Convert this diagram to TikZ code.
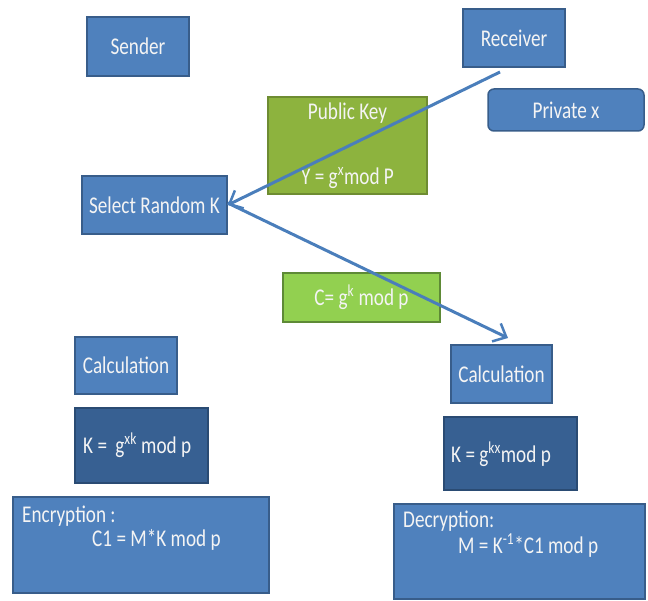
\documentclass[tikz,border=0pt]{standalone}
\usepackage{fontspec}
\setmainfont{Carlito}[FakeStretch=0.8]
\usetikzlibrary{arrows.meta}
\definecolor{boxblue}{HTML}{4F81BD}
\definecolor{boxedge}{HTML}{385D8A}
\definecolor{darkblue}{HTML}{376092}
\definecolor{darkedge}{HTML}{2A4B73}
\definecolor{olive}{HTML}{8DB33E}
\definecolor{oliveedge}{HTML}{6E8C32}
\definecolor{lgreen}{HTML}{92D050}
\definecolor{lgreenedge}{HTML}{5E8A36}
\definecolor{txt}{HTML}{F4F4F4}
\definecolor{arrowc}{HTML}{4A7EBB}
\begin{document}
\begin{tikzpicture}[x=1pt,y=-1pt,
  box/.style={draw=boxedge,fill=boxblue,line width=1.5pt,text=txt,inner sep=0pt,
    font=\fontsize{24}{27}\selectfont},
  dbox/.style={box,draw=darkedge,fill=darkblue},
  lbl/.style={text=txt,inner sep=0pt,font=\fontsize{24}{27}\selectfont},
  conn/.style={draw=arrowc,line width=3pt,-{Straight Barb[length=11pt,width=20pt,line width=2.5pt]}}]
\useasboundingbox (0,0) rectangle (648,601);
\node[box,minimum width=102pt,minimum height=59pt] (sender) at (138,46.5) {Sender};
\node[box,minimum width=102pt,minimum height=58pt] (recv) at (514,38) {Receiver};
\node[box,rounded corners=6pt,minimum width=156pt,minimum height=42pt] (priv) at (566,110) {Private x};
\node[box,draw=oliveedge,fill=olive,minimum width=159pt,minimum height=97pt] (pub) at (347.5,145.5) {};
\node[lbl] (pub1) at (347.5,113) {Public Key};
\node[lbl] (pub2) at (347.5,178) {Y = g\textsuperscript{x}mod P};
\node[box,minimum width=145pt,minimum height=58pt] (sel) at (154.5,205) {Select Random K};
\node[box,draw=lgreenedge,fill=lgreen,minimum width=157pt,minimum height=49pt] (cbox) at (361.5,297.5) {C= g\textsuperscript{k} mod p};
\node[box,minimum width=102pt,minimum height=57pt] (lcalc) at (126,365.5) {Calculation};
\node[dbox,minimum width=133pt,minimum height=75pt] (lk) at (141.5,445.5) {};
\node[lbl,anchor=west] (lkt) at (83,445) {K =\, g\textsuperscript{xk} mod p};
\node[box,minimum width=101pt,minimum height=58pt] (rcalc) at (501.5,374) {Calculation};
\node[dbox,minimum width=133pt,minimum height=73pt] (rk) at (510.5,453.5) {};
\node[lbl,anchor=west] (rkt) at (451,454) {K = g\textsuperscript{kx}mod p};
\node[box,minimum width=256pt,minimum height=96pt] (enc) at (141,545) {};
\node[lbl,anchor=west] (enc1) at (22,516) {Encryption :};
\node[lbl,anchor=west] (enc2) at (92,540) {C1 = M*K mod p};
\node[box,minimum width=251pt,minimum height=95pt] (dec) at (519.5,551.5) {};
\node[lbl,anchor=west] (dec1) at (403,521) {Decryption:};
\node[lbl,anchor=west] (dec2) at (458,546) {M = K\textsuperscript{-1}*C1 mod p};
\coordinate (a1) at (500,72);
\coordinate (a2) at (508,338);
\draw[conn] (a1) -- (sel.east);
\draw[conn] ([yshift=2pt]sel.east) -- (a2);
\end{tikzpicture}
\end{document}
